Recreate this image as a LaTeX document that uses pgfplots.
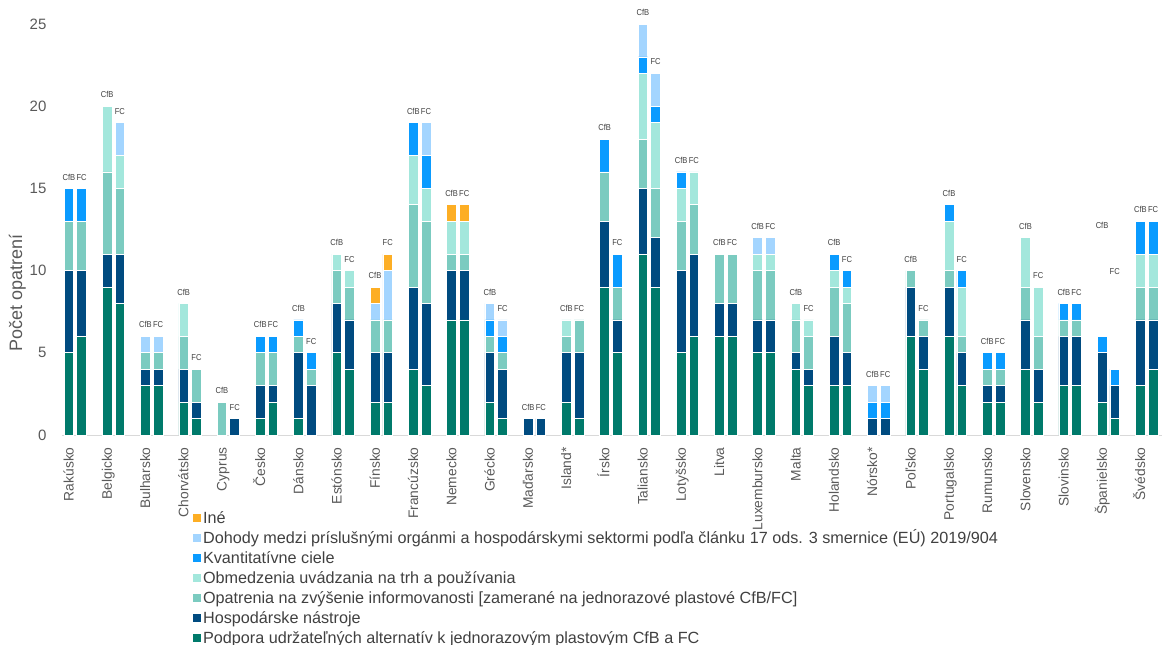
\documentclass[border=0pt]{standalone}
\usepackage{fontspec}
\setmainfont{Liberation Sans}
\newfontfamily\labfont[FakeStretch=0.88]{Liberation Sans}
\usepackage{pgfplots}
\usepackage{pgfplotstable}
\pgfplotsset{compat=1.18}
\definecolor{cPod}{HTML}{007A6B}
\definecolor{cHosp}{HTML}{004B80}
\definecolor{cOpat}{HTML}{7BCBC0}
\definecolor{cObm}{HTML}{A3E7DC}
\definecolor{cKvant}{HTML}{0A9BFF}
\definecolor{cDoh}{HTML}{A3D5FF}
\definecolor{cIne}{HTML}{FDAE24}
\definecolor{tickgray}{HTML}{595959}
\definecolor{labgray}{HTML}{404040}
\pgfplotstableread{
g s pod hosp opat obm kvant doh ine tot lab
0 -1 5 5 3 0 2 0 0 15 CfB
0 1 6 4 3 0 2 0 0 15 FC
1 -1 9 2 5 4 0 0 0 20 CfB
1 1 8 3 4 2 0 2 0 19 FC
2 -1 3 1 1 0 0 1 0 6 CfB
2 1 3 1 1 0 0 1 0 6 FC
3 -1 2 2 2 2 0 0 0 8 CfB
3 1 1 1 2 0 0 0 0 4 FC
4 -1 0 0 2 0 0 0 0 2 CfB
4 1 0 1 0 0 0 0 0 1 FC
5 -1 1 2 2 0 1 0 0 6 CfB
5 1 2 1 2 0 1 0 0 6 FC
6 -1 1 4 1 0 1 0 0 7 CfB
6 1 0 3 1 0 1 0 0 5 FC
7 -1 5 3 2 1 0 0 0 11 CfB
7 1 4 3 2 1 0 0 0 10 FC
8 -1 2 3 2 0 0 1 1 9 CfB
8 1 2 3 2 0 0 3 1 11 FC
9 -1 4 5 5 3 2 0 0 19 CfB
9 1 3 5 5 2 2 2 0 19 FC
10 -1 7 3 1 2 0 0 1 14 CfB
10 1 7 3 1 2 0 0 1 14 FC
11 -1 2 3 1 0 1 1 0 8 CfB
11 1 1 3 1 0 1 1 0 7 FC
12 -1 0 1 0 0 0 0 0 1 CfB
12 1 0 1 0 0 0 0 0 1 FC
13 -1 2 3 1 1 0 0 0 7 CfB
13 1 1 4 2 0 0 0 0 7 FC
14 -1 9 4 3 0 2 0 0 18 CfB
14 1 5 2 2 0 2 0 0 11 FC
15 -1 11 4 3 4 1 2 0 25 CfB
15 1 9 3 3 4 1 2 0 22 FC
16 -1 5 5 3 2 1 0 0 16 CfB
16 1 6 5 3 2 0 0 0 16 FC
17 -1 6 2 3 0 0 0 0 11 CfB
17 1 6 2 3 0 0 0 0 11 FC
18 -1 5 2 3 1 0 1 0 12 CfB
18 1 5 2 3 1 0 1 0 12 FC
19 -1 4 1 2 1 0 0 0 8 CfB
19 1 3 1 2 1 0 0 0 7 FC
20 -1 3 3 3 1 1 0 0 11 CfB
20 1 3 2 3 1 1 0 0 10 FC
21 -1 0 1 0 0 1 1 0 3 CfB
21 1 0 1 0 0 1 1 0 3 FC
22 -1 6 3 1 0 0 0 0 10 CfB
22 1 4 2 1 0 0 0 0 7 FC
23 -1 6 3 1 3 1 0 0 14 CfB
23 1 3 2 1 3 1 0 0 10 FC
24 -1 2 1 1 0 1 0 0 5 CfB
24 1 2 1 1 0 1 0 0 5 FC
25 -1 4 3 2 3 0 0 0 12 CfB
25 1 2 2 2 3 0 0 0 9 FC
26 -1 3 3 1 0 1 0 0 8 CfB
26 1 3 3 1 0 1 0 0 8 FC
27 -1 2 3 0 0 1 0 0 12.07 CfB
27 1 1 2 0 0 1 0 0 9.28 FC
28 -1 3 4 2 2 2 0 0 13 CfB
28 1 4 3 2 2 2 0 0 13 FC
}\data
\begin{document}
\begin{tikzpicture}
\useasboundingbox (0,0) rectangle (581pt,322pt);
\begin{axis}[
  at={(31pt,104.5pt)}, anchor=south west,
  scale only axis, width=550pt, height=205.5pt,
  xmin=-0.347, xmax=28.40, ymin=0, ymax=25,
  ybar stacked, bar width=0.254,
  clip=false,
  axis x line*=bottom, axis y line*=left,
  x axis line style={draw=black!15, line width=0.5pt, -},
  y axis line style={draw=none, -},
  major tick length=0pt,
  ytick={0,5,10,15,20,25},
  xtick={0,...,28},
  xticklabels={Rakúsko,Belgicko,Bulharsko,Chorvátsko,Cyprus,Česko,Dánsko,Estónsko,Fínsko,Francúzsko,Nemecko,Grécko,Maďarsko,Island*,Írsko,Taliansko,Lotyšsko,Litva,Luxembursko,Malta,Holandsko,Nórsko*,Poľsko,Portugalsko,Rumunsko,Slovensko,Slovinsko,Španielsko,Švédsko},
  /pgf/number format/assume math mode=true,
  yticklabel style={font=\fontsize{7.5}{8}\selectfont, text=tickgray, inner sep=0pt, xshift=-7.6pt},
  xticklabel style={font=\fontsize{6.9}{7.5}\selectfont, text=tickgray, inner sep=0pt, text height=5pt, text depth=1.4pt, xshift=-2.6pt, yshift=-6pt, rotate=90, anchor=east},
  ylabel={Počet opatrení},
  ylabel style={at={(axis description cs:-0.0405,0.345)}, anchor=center, font=\fontsize{9}{10}\selectfont, text=tickgray},
  every axis plot/.append style={draw=white, line width=0.35pt},
  legend style={at={(axis description cs:0.1188,-0.1813)}, anchor=north west, draw=none, fill=none, inner sep=0pt, outer sep=0pt, row sep=0.8pt, column sep=0pt, font=\fontsize{8.1}{9.7}\selectfont, text=labgray, nodes={inner sep=0.8pt, text height=6pt, text depth=1.6pt}},
  legend cell align=left,
  reverse legend,
  legend image code/.code={\path[#1,draw=none] (0pt,-1.8pt) rectangle (4.4pt,2.6pt);},
]
\addplot[fill=cPod] table[x expr=\thisrow{g}+0.166*\thisrow{s}, y=pod] \data;
\addlegendentry{Podpora udržateľných alternatív k jednorazovým plastovým CfB a FC}
\addplot[fill=cHosp] table[x expr=\thisrow{g}+0.166*\thisrow{s}, y=hosp] \data;
\addlegendentry{Hospodárske nástroje}
\addplot[fill=cOpat] table[x expr=\thisrow{g}+0.166*\thisrow{s}, y=opat] \data;
\addlegendentry{Opatrenia na zvýšenie informovanosti [zamerané na jednorazové plastové CfB/FC]}
\addplot[fill=cObm] table[x expr=\thisrow{g}+0.166*\thisrow{s}, y=obm] \data;
\addlegendentry{Obmedzenia uvádzania na trh a používania}
\addplot[fill=cKvant] table[x expr=\thisrow{g}+0.166*\thisrow{s}, y=kvant] \data;
\addlegendentry{Kvantitatívne ciele}
\addplot[fill=cDoh] table[x expr=\thisrow{g}+0.166*\thisrow{s}, y=doh] \data;
\addlegendentry{Dohody medzi príslušnými orgánmi a hospodárskymi sektormi podľa článku 17 ods. 3 smernice (EÚ) 2019/904}
\addplot[fill=cIne] table[x expr=\thisrow{g}+0.166*\thisrow{s}, y=ine] \data;
\addlegendentry{Iné}
\end{axis}
\begin{axis}[
  at={(31pt,104.5pt)}, anchor=south west,
  scale only axis, width=550pt, height=205.5pt,
  xmin=-0.347, xmax=28.40, ymin=0, ymax=25,
  hide axis, clip=false,
]
\addplot[draw=none, mark=none, nodes near coords, point meta=explicit symbolic,
  nodes near coords style={anchor=base, inner sep=0pt, yshift=4.2pt, font=\labfont\fontsize{4.3}{4.8}\selectfont, text=labgray}]
  table[x expr=\thisrow{g}+0.166*\thisrow{s}, y=tot, meta=lab] \data;
\end{axis}
\end{tikzpicture}
\end{document}
